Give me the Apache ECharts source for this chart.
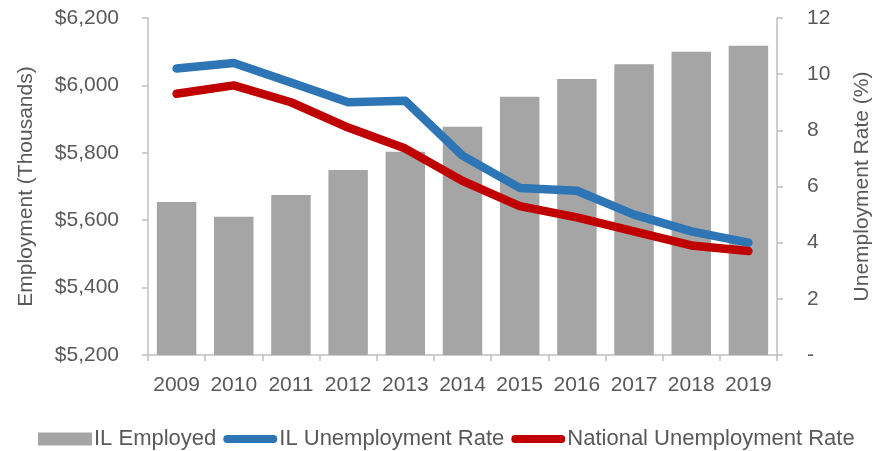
<!DOCTYPE html>
<html>
<head>
<meta charset="utf-8">
<script src="https://cdn.jsdelivr.net/npm/echarts@6/dist/echarts.min.js"></script>
<style>
  html, body { margin: 0; padding: 0; background: #ffffff; }
  #chart { width: 886px; height: 451px; }
</style>
</head>
<body>
<div id="chart"></div>
<script>
const years = ['2009','2010','2011','2012','2013','2014','2015','2016','2017','2018','2019'];
const ilEmployed = [5654, 5610, 5675, 5749, 5803, 5877, 5966, 6019, 6063, 6100, 6118];
const ilUnemp = [10.2, 10.4, 9.7, 9.0, 9.05, 7.1, 5.95, 5.85, 5.0, 4.4, 4.0];
const natUnemp = [9.3, 9.6, 9.0, 8.1, 7.35, 6.2, 5.3, 4.9, 4.4, 3.9, 3.7];

const textColor = '#595959';
const axisColor = '#BFBFBF';
const fontFam = '"Liberation Sans", Arial, sans-serif';
const lineIcon = 'path://M0,0 M56,13 M4,2.5 L52,2.5 A4,4 0 0 1 52,10.5 L4,10.5 A4,4 0 0 1 4,2.5 Z';

const chart = echarts.init(document.getElementById('chart'));
chart.setOption({
  animation: false,
  backgroundColor: '#ffffff',
  textStyle: { fontFamily: fontFam },
  grid: { left: 148, right: 109, top: 18, bottom: 96, containLabel: false },
  legend: {
    left: 33,
    bottom: -4,
    itemWidth: 54,
    itemHeight: 13,
    itemGap: 7,
    symbolKeepAspect: false,
    textStyle: { color: textColor, fontSize: 22, fontFamily: fontFam, padding: [0, 0, 0, -3] },
    data: [
      { name: 'IL Employed', icon: 'rect' },
      { name: 'IL Unemployment Rate', icon: lineIcon },
      { name: 'National Unemployment Rate', icon: lineIcon }
    ]
  },
  xAxis: {
    type: 'category',
    data: years,
    axisLine: { lineStyle: { color: axisColor, width: 1.5 } },
    axisTick: { show: true, length: 6, lineStyle: { color: axisColor, width: 1.5 } },
    axisLabel: { color: textColor, fontSize: 21, margin: 20, interval: 0 }
  },
  yAxis: [
    {
      type: 'value',
      min: 5200, max: 6200, interval: 200,
      name: 'Employment (Thousands)',
      nameLocation: 'middle',
      nameGap: 111,
      nameTextStyle: { color: textColor, fontSize: 21 },
      axisLine: { show: true, lineStyle: { color: axisColor, width: 1.5 } },
      axisTick: { show: true, length: 6, inside: false, lineStyle: { color: axisColor, width: 1.5 } },
      splitLine: { show: false },
      axisLabel: {
        color: textColor, fontSize: 21, margin: 29,
        formatter: v => '$' + v.toLocaleString('en-US')
      }
    },
    {
      type: 'value',
      min: 0, max: 12, interval: 2,
      name: 'Unemployment Rate (%)',
      nameLocation: 'middle',
      nameGap: 75,
      nameTextStyle: { color: textColor, fontSize: 21 },
      position: 'right',
      axisLine: { show: true, lineStyle: { color: axisColor, width: 1.5 } },
      axisTick: { show: true, length: 6, lineStyle: { color: axisColor, width: 1.5 } },
      splitLine: { show: false },
      axisLabel: {
        color: textColor, fontSize: 21, margin: 30,
        formatter: v => v === 0 ? '-' : String(v)
      }
    }
  ],
  series: [
    {
      name: 'IL Employed',
      type: 'bar',
      data: ilEmployed,
      barCategoryGap: '31%',
      itemStyle: { color: '#A5A5A5' },
      yAxisIndex: 0
    },
    {
      name: 'IL Unemployment Rate',
      type: 'line',
      data: ilUnemp,
      yAxisIndex: 1,
      symbol: 'none',
      showSymbol: false,
      lineStyle: { color: '#2E75B6', width: 8.5, cap: 'round', join: 'round' },
      itemStyle: { color: '#2E75B6' }
    },
    {
      name: 'National Unemployment Rate',
      type: 'line',
      data: natUnemp,
      yAxisIndex: 1,
      symbol: 'none',
      showSymbol: false,
      lineStyle: { color: '#C00000', width: 8.5, cap: 'round', join: 'round' },
      itemStyle: { color: '#C00000' }
    }
  ]
});
</script>
</body>
</html>
